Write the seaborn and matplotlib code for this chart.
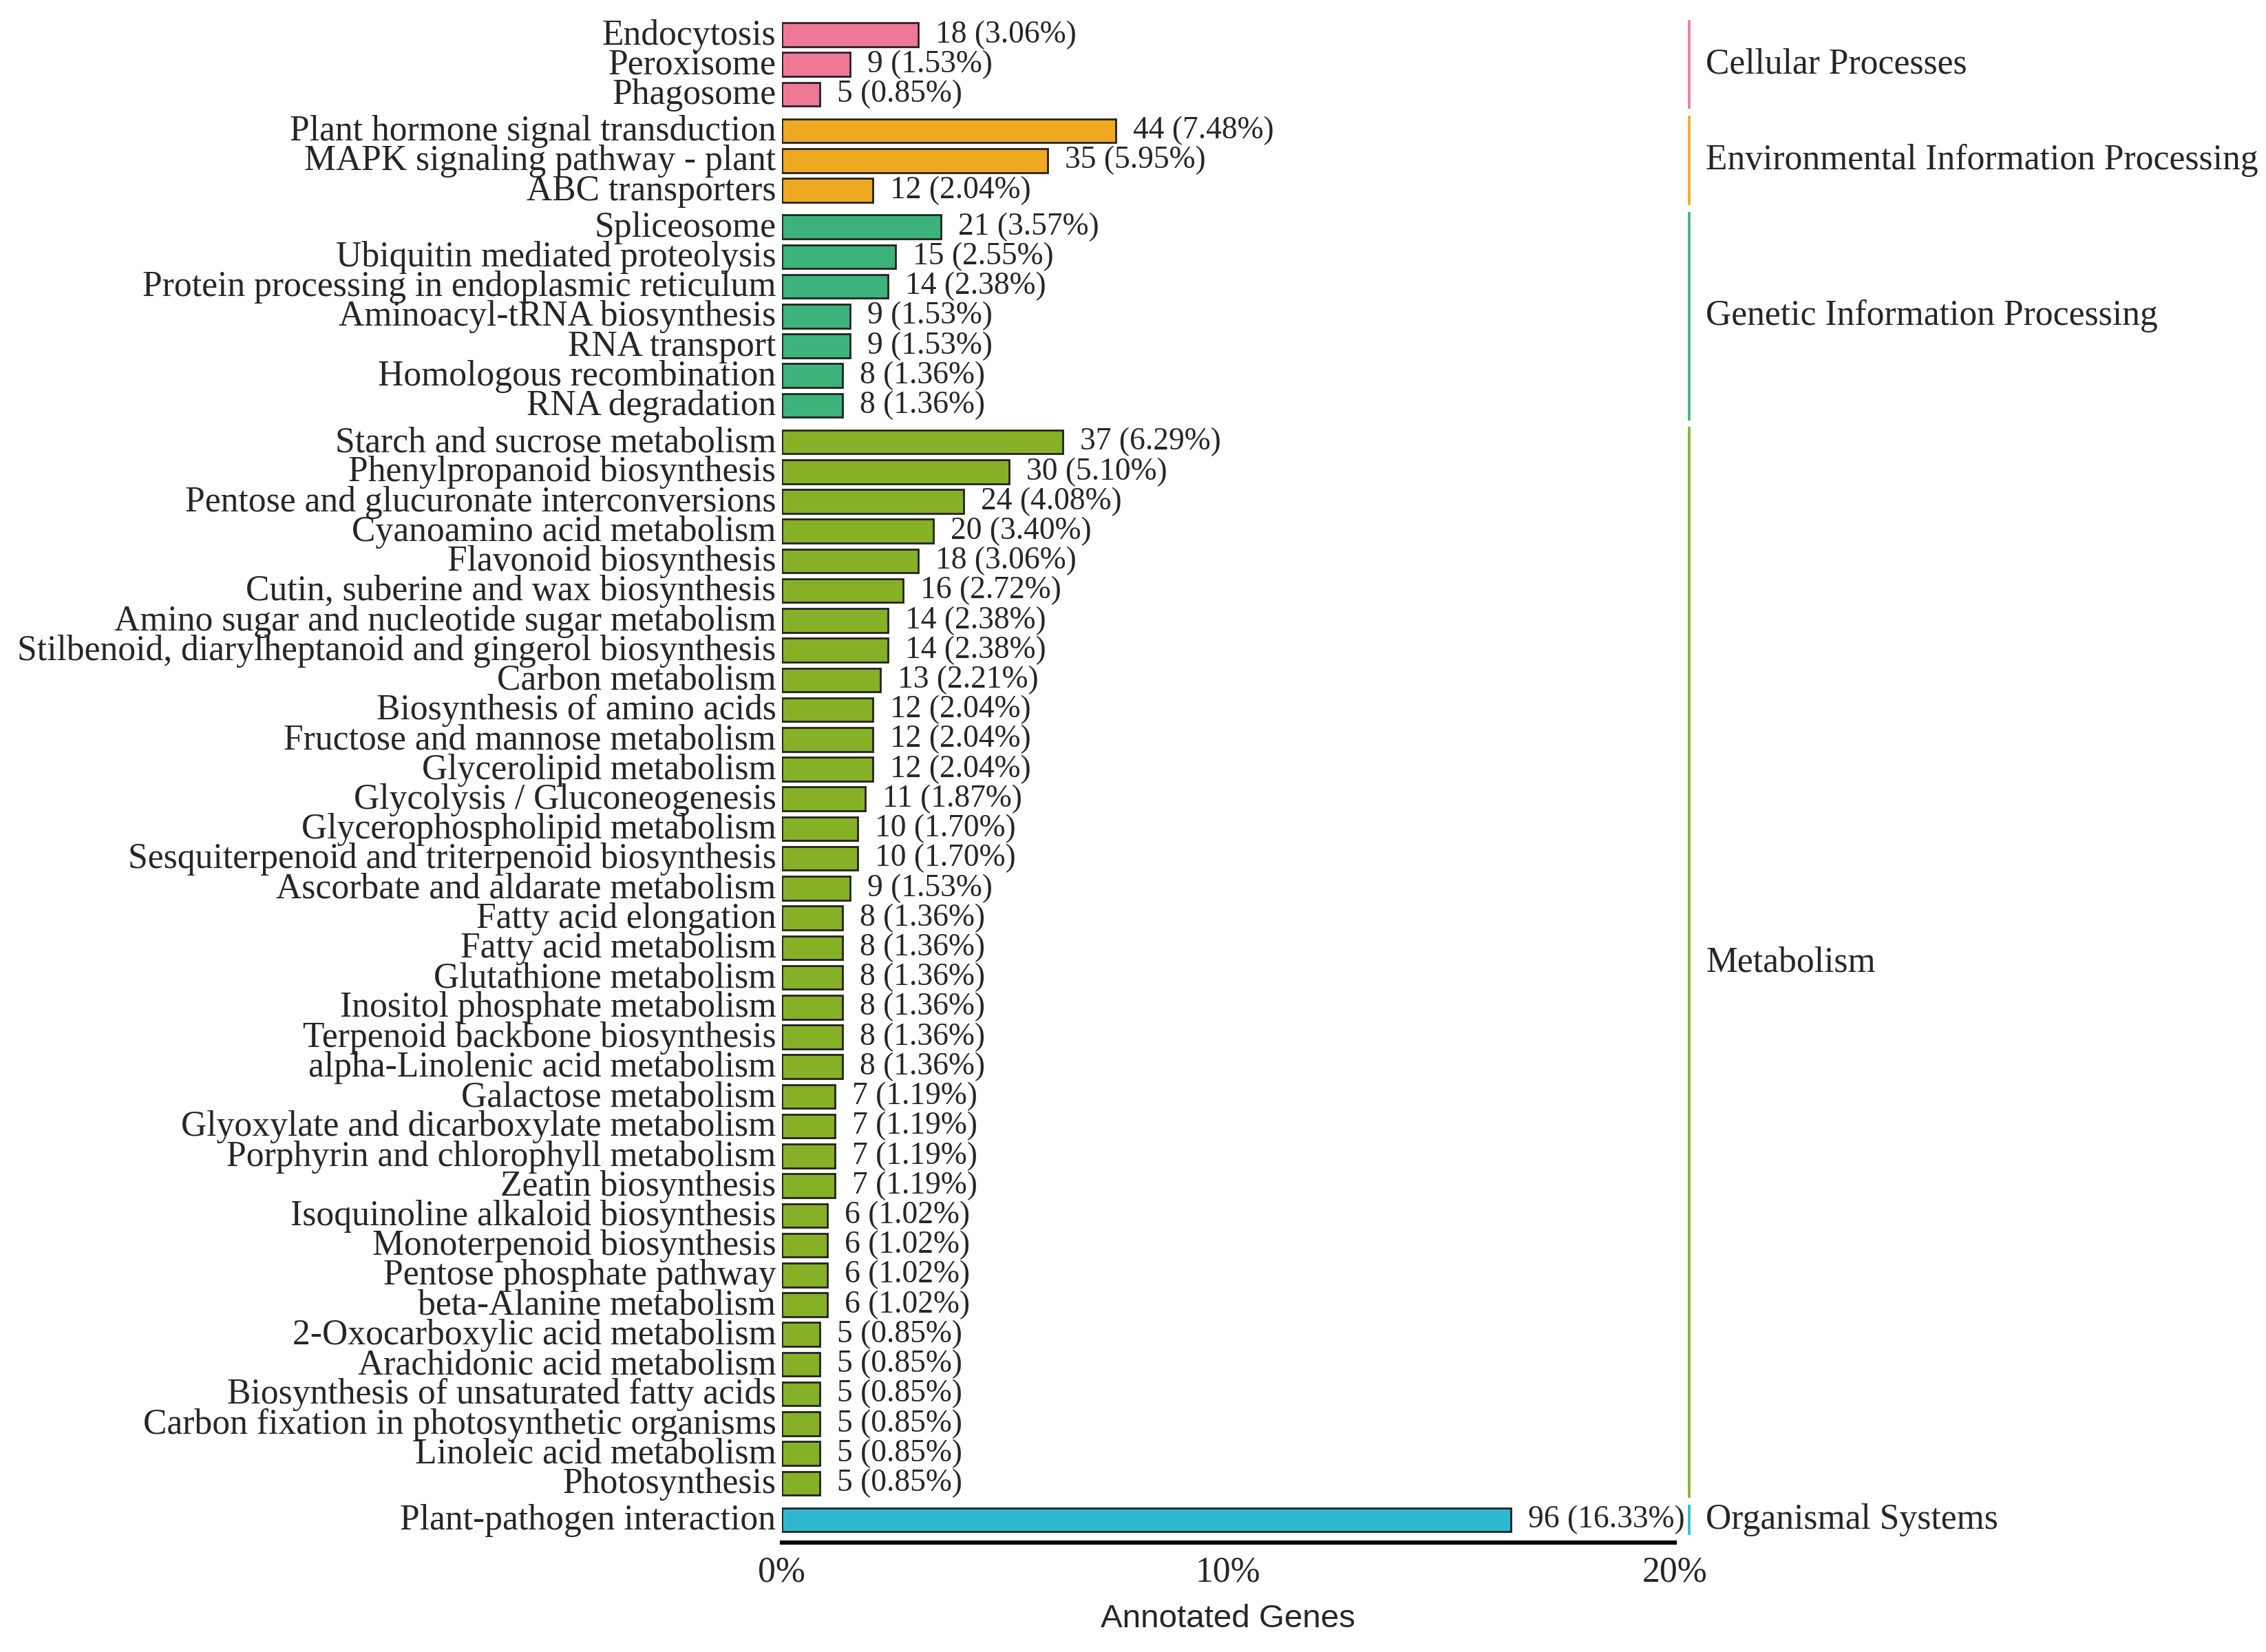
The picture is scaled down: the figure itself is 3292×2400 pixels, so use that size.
import matplotlib
matplotlib.use('Agg')
import matplotlib.pyplot as plt
import matplotlib.transforms as mtransforms
import pandas as pd
import seaborn as sns

groups = ['Cellular Processes', 'Environmental Information Processing',
          'Genetic Information Processing', 'Metabolism', 'Organismal Systems']
group_colors = ['#EE7896', '#EEA921', '#3BB37B', '#86B026', '#2DB8D0']

cellular = ['Endocytosis', 'Peroxisome', 'Phagosome']
cellular_n = [18, 9, 5]
cellular_pct = [3.06, 1.53, 0.85]

environmental = ['Plant hormone signal transduction', 'MAPK signaling pathway - plant',
                 'ABC transporters']
environmental_n = [44, 35, 12]
environmental_pct = [7.48, 5.95, 2.04]

genetic = ['Spliceosome', 'Ubiquitin mediated proteolysis',
           'Protein processing in endoplasmic reticulum', 'Aminoacyl-tRNA biosynthesis',
           'RNA transport', 'Homologous recombination', 'RNA degradation']
genetic_n = [21, 15, 14, 9, 9, 8, 8]
genetic_pct = [3.57, 2.55, 2.38, 1.53, 1.53, 1.36, 1.36]

metabolism = ['Starch and sucrose metabolism', 'Phenylpropanoid biosynthesis',
              'Pentose and glucuronate interconversions', 'Cyanoamino acid metabolism',
              'Flavonoid biosynthesis', 'Cutin, suberine and wax biosynthesis',
              'Amino sugar and nucleotide sugar metabolism',
              'Stilbenoid, diarylheptanoid and gingerol biosynthesis', 'Carbon metabolism',
              'Biosynthesis of amino acids', 'Fructose and mannose metabolism',
              'Glycerolipid metabolism', 'Glycolysis / Gluconeogenesis',
              'Glycerophospholipid metabolism', 'Sesquiterpenoid and triterpenoid biosynthesis',
              'Ascorbate and aldarate metabolism', 'Fatty acid elongation',
              'Fatty acid metabolism', 'Glutathione metabolism', 'Inositol phosphate metabolism',
              'Terpenoid backbone biosynthesis', 'alpha-Linolenic acid metabolism',
              'Galactose metabolism', 'Glyoxylate and dicarboxylate metabolism',
              'Porphyrin and chlorophyll metabolism', 'Zeatin biosynthesis',
              'Isoquinoline alkaloid biosynthesis', 'Monoterpenoid biosynthesis',
              'Pentose phosphate pathway', 'beta-Alanine metabolism',
              '2-Oxocarboxylic acid metabolism', 'Arachidonic acid metabolism',
              'Biosynthesis of unsaturated fatty acids', 'Carbon fixation in photosynthetic organisms',
              'Linoleic acid metabolism', 'Photosynthesis']
metabolism_n = [37, 30, 24, 20, 18, 16, 14, 14, 13, 12, 12, 12, 11, 10, 10, 9,
                8, 8, 8, 8, 8, 8, 7, 7, 7, 7, 6, 6, 6, 6, 5, 5, 5, 5, 5, 5]
metabolism_pct = [6.29, 5.10, 4.08, 3.40, 3.06, 2.72, 2.38, 2.38, 2.21, 2.04, 2.04, 2.04,
                  1.87, 1.70, 1.70, 1.53, 1.36, 1.36, 1.36, 1.36, 1.36, 1.36, 1.19, 1.19,
                  1.19, 1.19, 1.02, 1.02, 1.02, 1.02, 0.85, 0.85, 0.85, 0.85, 0.85, 0.85]

organismal = ['Plant-pathogen interaction']
organismal_n = [96]
organismal_pct = [16.33]

x_ticks = [0, 10, 20]
x_tick_labels = ['0%', '10%', '20%']

frames = []
for g, names, n, pct in zip(groups,
                            [cellular, environmental, genetic, metabolism, organismal],
                            [cellular_n, environmental_n, genetic_n, metabolism_n, organismal_n],
                            [cellular_pct, environmental_pct, genetic_pct, metabolism_pct, organismal_pct]):
    frames.append(pd.DataFrame({'group': g, 'pathway': names, 'n': n, 'pct': pct}))
df = pd.concat(frames, ignore_index=True)

sns.set_style('white')
plt.rcParams['font.family'] = ['Liberation Serif', 'DejaVu Serif']
FS = 18.6
FS_VAL = 16.4

sizes = [len(f) for f in frames]
fig, axes = plt.subplots(len(groups), 1, figsize=(16.46, 12), dpi=200, sharex=True,
                         gridspec_kw=dict(height_ratios=sizes, hspace=0.023))
fig.subplots_adjust(left=0.345, right=0.739, top=0.988, bottom=0.071)

# nudge pathway names up a little so they sit on the bar centre
lift = mtransforms.ScaledTranslation(0, 0.022, fig.dpi_scale_trans)

for ax, g, col, k in zip(axes, groups, group_colors, sizes):
    sub = df[df['group'] == g]
    sns.barplot(data=sub, x='pct', y='pathway', color=col, saturation=1, width=0.8,
                edgecolor='#222222', linewidth=1.0, ax=ax)
    labels = [f'{n} ({p:.2f}%)' for n, p in zip(sub['n'], sub['pct'])]
    ax.bar_label(ax.containers[0], labels=labels, padding=9, fontsize=FS_VAL)
    ax.set_xlim(0, 20)
    ax.set_ylim(k - 0.5, -0.5)
    ax.set_ylabel('')
    ax.set_xlabel('')
    for s in ['top', 'right', 'left', 'bottom']:
        ax.spines[s].set_visible(False)
    ax.tick_params(axis='y', length=0, pad=3, labelsize=FS)
    for lab in ax.get_yticklabels():
        lab.set_transform(lab.get_transform() + lift)
    ax.tick_params(axis='x', length=0)
    # group strip on the right
    ax.plot([1.016, 1.016], [0.0, 1.0], transform=ax.transAxes, color=col, lw=1.3,
            clip_on=False, solid_capstyle='butt')
    ax.text(1.035, 0.5, g, transform=ax.transAxes, va='center', ha='left', fontsize=FS)

bottom = axes[-1]
bottom.spines['bottom'].set_visible(True)
bottom.spines['bottom'].set_position(('outward', 4))
bottom.spines['bottom'].set_linewidth(2.2)
bottom.spines['bottom'].set_color('black')
bottom.set_xticks(x_ticks)
bottom.set_xticklabels(x_tick_labels)
bottom.tick_params(axis='x', length=5, width=0.8, color='black', labelsize=FS, pad=2)
bottom.set_xlabel('Annotated Genes', fontsize=FS - 1.5, family=['Liberation Sans', 'DejaVu Sans'],
                  labelpad=8)

fig.savefig('out.png', dpi=200)
